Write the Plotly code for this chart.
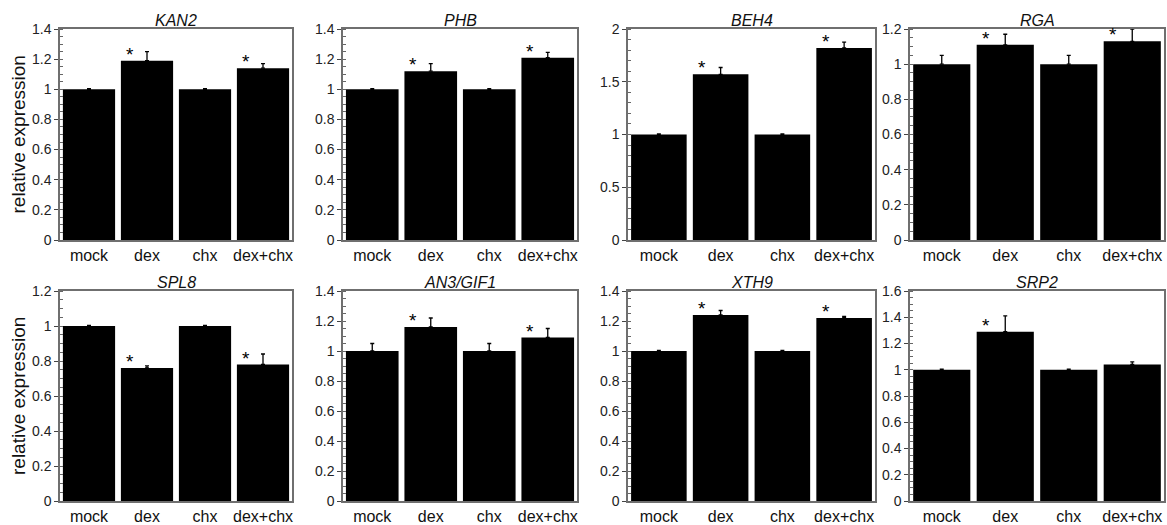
import plotly.graph_objects as go

categories = ["mock", "dex", "chx", "dex+chx"]
genes = ["KAN2", "PHB", "BEH4", "RGA", "SPL8", "AN3/GIF1", "XTH9", "SRP2"]

kan2 = [1.0, 1.19, 1.0, 1.14]
kan2_err = [0.004, 0.06, 0.004, 0.03]
phb = [1.0, 1.12, 1.0, 1.21]
phb_err = [0.004, 0.05, 0.004, 0.035]
beh4 = [1.0, 1.57, 1.0, 1.82]
beh4_err = [0.006, 0.065, 0.006, 0.055]
rga = [1.0, 1.11, 1.0, 1.13]
rga_err = [0.05, 0.06, 0.05, 0.07]
spl8 = [1.0, 0.76, 1.0, 0.78]
spl8_err = [0.003, 0.012, 0.003, 0.06]
an3 = [1.0, 1.16, 1.0, 1.09]
an3_err = [0.05, 0.06, 0.05, 0.06]
xth9 = [1.0, 1.24, 1.0, 1.22]
xth9_err = [0.004, 0.03, 0.004, 0.01]
srp2 = [1.0, 1.29, 1.0, 1.04]
srp2_err = [0.004, 0.12, 0.004, 0.02]

values = [kan2, phb, beh4, rga, spl8, an3, xth9, srp2]
errors = [kan2_err, phb_err, beh4_err, rga_err, spl8_err, an3_err, xth9_err, srp2_err]
stars = [
    [False, True, False, True],
    [False, True, False, True],
    [False, True, False, True],
    [False, True, False, True],
    [False, True, False, True],
    [False, True, False, True],
    [False, True, False, True],
    [False, True, False, False],
]
y_max = [1.4, 1.4, 2.0, 1.2, 1.2, 1.4, 1.4, 1.6]
y_dtick = [0.2, 0.2, 0.5, 0.2, 0.2, 0.2, 0.2, 0.2]
y_minor = [0.05, 0.05, 0.1, 0.05, 0.05, 0.05, 0.05, 0.05]

W, H = 1167, 525
x_px = [(60, 292), (343, 577), (628, 875), (910, 1164)]
y_px = [(29, 240), (291, 501)]

FONT = "Liberation Sans, Arial, sans-serif"
FRAME = "#6f6f6f"

fig = go.Figure()
annotations = []

for k in range(8):
    r, c = divmod(k, 4)
    n = k + 1
    xa = "xaxis" if n == 1 else f"xaxis{n}"
    ya = "yaxis" if n == 1 else f"yaxis{n}"
    xref = "x" if n == 1 else f"x{n}"
    yref = "y" if n == 1 else f"y{n}"
    fig.add_trace(go.Bar(
        x=list(range(4)), y=values[k],
        marker=dict(color="black", line=dict(width=0)),
        error_y=dict(type="data", symmetric=False, array=errors[k],
                     arrayminus=[0] * 4, color="black", thickness=1.3, width=2),
        xaxis=xref, yaxis=yref, showlegend=False,
    ))
    x0, x1 = x_px[c]
    y0, y1 = y_px[r]
    fig.layout[xa] = dict(
        domain=[x0 / W, x1 / W], anchor=yref, automargin=False,
        range=[-0.5, 3.5], tickmode="array", tickvals=list(range(4)),
        ticktext=categories, ticks="", showline=True, mirror=True,
        linecolor=FRAME, linewidth=1.5, showgrid=False, zeroline=False,
        tickfont=dict(family=FONT, size=16, color="#111"), fixedrange=True,
    )
    fig.layout[ya] = dict(
        domain=[1 - y1 / H, 1 - y0 / H], anchor=xref, automargin=False,
        range=[0, y_max[k]], dtick=y_dtick[k], tick0=0,
        ticks="outside", ticklen=4, tickwidth=1, tickcolor="#444",
        minor=dict(dtick=y_minor[k], ticks="inside", ticklen=3, tickcolor="#666", tickwidth=1),
        showline=True, mirror=True, linecolor=FRAME, linewidth=1.5,
        showgrid=False, zeroline=False,
        tickfont=dict(family=FONT, size=14, color="#222"), fixedrange=True,
    )
    annotations.append(dict(
        text=f"<i>{genes[k]}</i>", x=(x0 + x1) / 2 / W, y=1 - y0 / H,
        xref="paper", yref="paper", xanchor="center", yanchor="bottom",
        showarrow=False, font=dict(family=FONT, size=16, color="#111"), yshift=-2,
    ))
    if c == 0:
        annotations.append(dict(
            text="relative expression", x=18 / W, y=1 - (y0 + y1) / 2 / H,
            xref="paper", yref="paper", xanchor="center", yanchor="middle",
            textangle=-90, showarrow=False,
            font=dict(family=FONT, size=19, color="#111"),
        ))
    for i in range(4):
        if stars[k][i]:
            annotations.append(dict(
                text="*", x=i - 0.3, y=values[k][i], xref=xref, yref=yref,
                xanchor="center", yanchor="bottom", showarrow=False, yshift=-6,
                font=dict(family=FONT, size=19, color="black"),
            ))

fig.update_layout(
    width=W, height=H, margin=dict(l=0, r=0, t=0, b=0),
    paper_bgcolor="white", plot_bgcolor="white",
    bargap=0.1, annotations=annotations,
    font=dict(family=FONT),
)
fig.write_html("out.html", config={"displayModeBar": False},
               post_script="document.body.style.margin='0px';document.body.style.overflow='hidden';")
